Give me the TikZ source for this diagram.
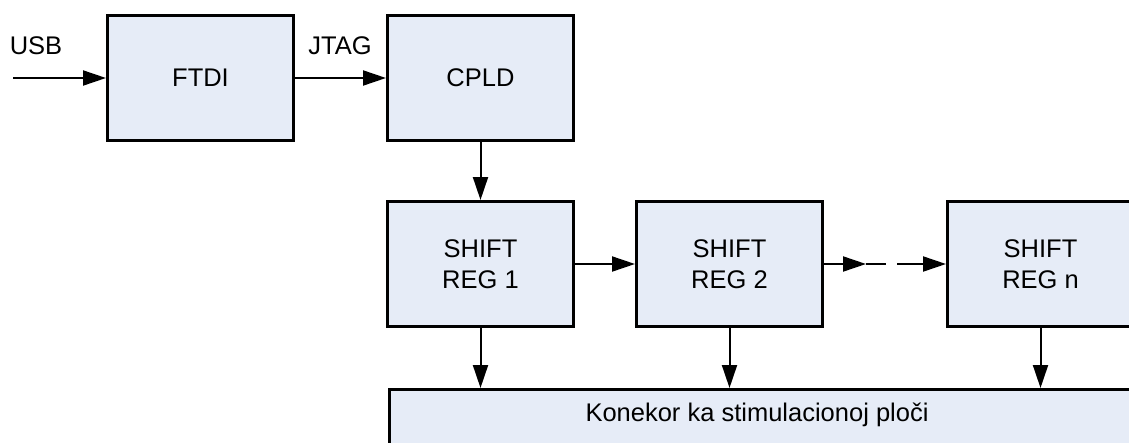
\documentclass[tikz,border=0pt]{standalone}
\usepackage{fontspec}
\setmainfont{Liberation Sans}
\usetikzlibrary{arrows.meta}
\definecolor{boxfill}{RGB}{230,236,247}
\begin{document}
\begin{tikzpicture}[x=1pt,y=-1pt,
  block/.style={draw=black, fill=boxfill, line width=3pt, inner sep=0pt,
    minimum width=186pt, minimum height=125pt, align=center,
    font=\fontsize{25.5}{31}\selectfont},
  txt/.style={inner sep=0pt, font=\fontsize{25.5}{31}\selectfont},
  conn/.style={line width=2pt, -{Triangle[length=23pt,width=15pt]}},
  plain/.style={line width=2pt}]
\useasboundingbox (0,0) rectangle (1129,442);
% top row
\node[block] (ftdi) at (200.5,78) {FTDI};
\node[block] (cpld) at (480.5,78) {CPLD};
% shift register chain
\node[block] (sr1) at (480.5,264) {SHIFT\\REG 1};
\node[block] (sr2) at (729.5,264) {SHIFT\\REG 2};
\node[block] (srn) at (1040.5,264) {SHIFT\\REG n};
% connector bar along the bottom
\node[draw=black, fill=boxfill, line width=3pt, inner sep=0pt,
  minimum width=780pt, minimum height=80pt, anchor=north west] (bar) at (388,388) {};
\node[txt] (bartext) at (757,415) {Konekor ka stimulacionoj ploči};
% input and labels
\coordinate (usbin) at (13,78);
\node[txt] (usb) at (36,46) {USB};
\node[txt] (jtag) at (340,46) {JTAG};
\draw[conn] (usbin) -- (ftdi.west);
\draw[conn] (ftdi.east) -- (cpld.west);
\draw[conn] (cpld.south) -- (sr1.north);
\draw[conn] (sr1.east) -- (sr2.west);
% broken link standing for the omitted registers
\coordinate (d1) at (866,264);
\coordinate (d2) at (886,264);
\coordinate (d3) at (897,264);
\draw[conn] (sr2.east) -- (d1);
\draw[plain] (d1) -- (d2);
\draw[conn] (d3) -- (srn.west);
% outputs to the connector
\draw[conn] (sr1.south) -- (sr1.south |- bar.north);
\draw[conn] (sr2.south) -- (sr2.south |- bar.north);
\draw[conn] (srn.south) -- (srn.south |- bar.north);
\end{tikzpicture}
\end{document}
